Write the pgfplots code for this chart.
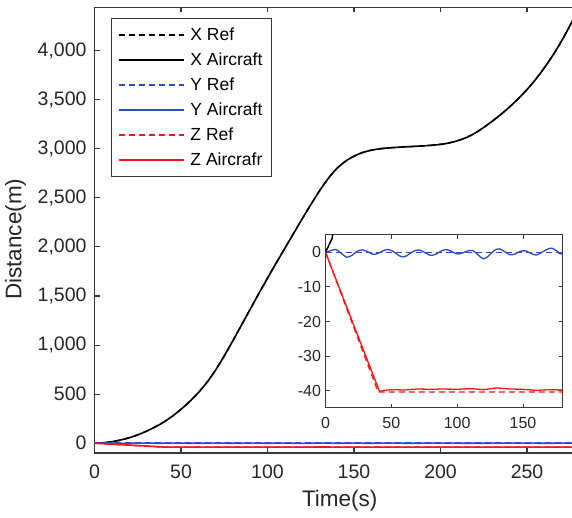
\documentclass[border=0pt]{standalone}
\usepackage{fontspec}
\setmainfont{Liberation Sans}
\usepackage{pgfplots}
\pgfplotsset{compat=1.18}
\usepackage{pgfplotstable}

\definecolor{mblue}{RGB}{45,75,195}
\definecolor{mred}{RGB}{250,20,20}
\definecolor{axgray}{RGB}{55,55,55}

\pgfplotstableread{
t X
0 0
5 4
10 15
15 32
20 55
25 85
30 122
35 165
40 215
45 275
50 345
55 425
60 515
65 620
70 745
75 890
80 1045
85 1205
90 1365
95 1525
100 1682
105 1835
110 1985
115 2135
120 2285
125 2430
130 2570
135 2695
140 2798
145 2872
150 2925
155 2962
160 2986
165 3000
170 3009
175 3015
180 3020
185 3025
190 3030
195 3036
200 3045
205 3060
210 3083
215 3115
220 3160
225 3218
230 3283
235 3352
240 3428
245 3512
250 3604
255 3708
260 3825
265 3955
270 4100
275 4262
280 4440
}\xdata

\pgfplotstableread{
t Y
0 0
4 0.5
8 0.8
12 -0.3
16 -1.4
20 -0.9
24 0.3
28 0.7
32 0.2
36 -0.6
40 -0.3
44 0.5
48 0.8
52 0.1
56 -1.0
60 -1.3
64 -0.4
68 0.5
72 0.6
76 -0.2
80 -0.9
84 -0.5
88 0.4
92 0.8
96 0.2
100 -0.5
104 -0.2
108 0.4
112 0.5
116 -0.8
120 -1.9
124 -1.0
128 0.5
132 1.0
136 0.2
140 -0.7
144 -0.5
148 0.3
152 0.4
156 -0.3
160 -0.8
164 -0.1
168 0.8
172 1.2
176 0.3
180 -0.5
200 0.3
220 -0.5
240 0.4
260 -0.3
280 0.2
}\ydata

\pgfplotstableread{
t Y
0 0
280 0
}\yref

\pgfplotstableread{
t Z
0 0
40 -40.4
280 -40.4
}\zref

\pgfplotstableread{
t Z
0 0
41 -40.2
45 -39.9
50 -39.7
60 -39.8
70 -39.5
80 -39.6
90 -39.5
100 -39.6
110 -39.4
120 -39.7
130 -39.2
140 -39.5
150 -39.6
160 -39.9
170 -39.7
180 -39.8
280 -39.8
}\zdata

\tikzset{
  refline/.style={line width=1.5pt, dash pattern=on 6pt off 4pt},
  acline/.style={line width=1.6pt, solid},
}

\begin{document}
\begin{tikzpicture}
\begin{axis}[
  scale only axis, width=477.5pt, height=445.5pt,
  xmin=0, xmax=276, ymin=-100, ymax=4440,
  axis x line=box, axis y line=left,
  axis line style={-, draw=axgray, line width=1.1pt},
  tick align=inside,
  major tick length=5pt,
  every tick/.style={axgray, line width=1.1pt},
  xtick={0,50,...,250},
  ytick={0,500,...,4000},
  /pgf/number format/assume math mode=true,
  /pgf/number format/1000 sep={,},
  tick label style={font=\fontsize{19.5}{19.5}\selectfont, text=black!85},
  xticklabel style={yshift=-8pt},
  yticklabel style={xshift=-4.5pt},
  xlabel={Time(s)},
  ylabel={Distance(m)},
  xlabel style={at={(axis description cs:0.5135,-0.0752)}, anchor=north, font=\fontsize{22.5}{22.5}\selectfont, text=black!85},
  ylabel style={at={(axis description cs:-0.1946,0.48)}, anchor=north, rotate=0, font=\fontsize{22.5}{22.5}\selectfont, text=black!85},
  legend cell align=left,
  legend style={at={(axis description cs:0.035,0.977)}, anchor=north west,
    draw=axgray, line width=0.9pt, fill=white,
    font=\fontsize{17.5}{17.5}\selectfont,
    inner xsep=6pt, inner ysep=4pt, row sep=0pt,
    nodes={inner xsep=3pt, inner ysep=6.25pt, text height=12.5pt, text depth=0pt},
    /tikz/every odd column/.append style={column sep=3pt}},
  legend image code/.code={\draw[#1] (0pt,0pt) -- (65pt,0pt);},
]
\addlegendimage{draw=black, line width=1.8pt, dash pattern=on 6pt off 4pt}
\addlegendentry{X Ref}
\addlegendimage{draw=black, line width=1.8pt, solid}
\addlegendentry{X Aircraft}
\addlegendimage{draw=mblue, line width=1.8pt, dash pattern=on 6pt off 4pt}
\addlegendentry{Y Ref}
\addlegendimage{draw=mblue, line width=1.8pt, solid}
\addlegendentry{Y Aircraft}
\addlegendimage{draw=mred, line width=1.8pt, dash pattern=on 6pt off 4pt}
\addlegendentry{Z Ref}
\addlegendimage{draw=mred, line width=1.8pt, solid}
\addlegendentry{Z Aircrafr}
\addplot[forget plot, black, refline, smooth] table[x=t, y=X] {\xdata};
\addplot[forget plot, black, acline, smooth] table[x=t, y=X] {\xdata};
\addplot[forget plot, mblue, refline] table[x=t, y=Y] {\yref};
\addplot[forget plot, mblue, acline] table[x=t, y=Y] {\ydata};
\addplot[forget plot, mred, refline] table[x=t, y=Z] {\zref};
\addplot[forget plot, mred, acline] table[x=t, y=Z] {\zdata};
\end{axis}

\begin{axis}[
  at={(231pt,45pt)}, anchor=south west,
  scale only axis, width=237pt, height=173pt,
  xmin=0, xmax=180, ymin=-45, ymax=5,
  axis background/.style={fill=white},
  axis line style={draw=axgray, line width=1.0pt},
  tick align=inside,
  major tick length=4pt,
  every tick/.style={axgray, line width=1.0pt},
  xtick={0,50,100,150},
  ytick={-40,-30,...,0},
  /pgf/number format/assume math mode=true,
  tick label style={font=\fontsize{16}{16}\selectfont, text=black!85},
  xticklabel style={yshift=-5.5pt},
  yticklabel style={xshift=-1pt},
]
\addplot[black, refline, line width=1.3pt] table[x=t, y=X] {\xdata};
\addplot[black, acline, line width=1.3pt] table[x=t, y=X] {\xdata};
\addplot[mblue, refline, line width=1.3pt] table[x=t, y=Y] {\yref};
\addplot[mblue, acline, line width=1.3pt, smooth] table[x=t, y=Y] {\ydata};
\addplot[mred, refline, line width=1.3pt] table[x=t, y=Z] {\zref};
\addplot[mred, acline, line width=1.3pt] table[x=t, y=Z] {\zdata};
\end{axis}
\pgfresetboundingbox
\path[use as bounding box] (-94.5pt,-65pt) rectangle (477.5pt,453pt);
\end{tikzpicture}
\end{document}
